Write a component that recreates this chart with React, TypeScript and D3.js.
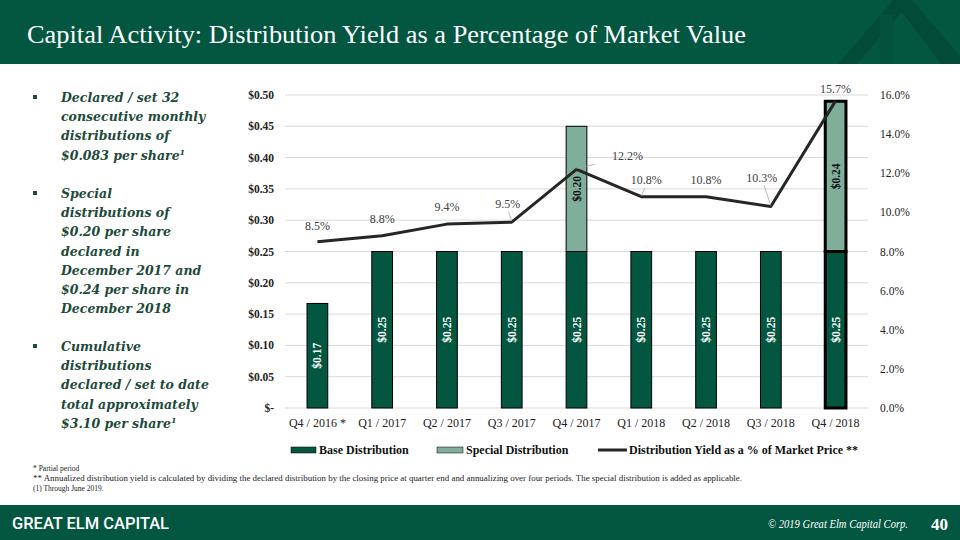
import React from "react";
import * as d3 from "d3";

const categories = ["Q4 / 2016 *", "Q1 / 2017", "Q2 / 2017", "Q3 / 2017", "Q4 / 2017", "Q1 / 2018", "Q2 / 2018", "Q3 / 2018", "Q4 / 2018"];
const baseValues = [0.167, 0.25, 0.25, 0.25, 0.25, 0.25, 0.25, 0.25, 0.25];
const baseLabels = ["$0.17", "$0.25", "$0.25", "$0.25", "$0.25", "$0.25", "$0.25", "$0.25", "$0.25"];
const specialValues = [0, 0, 0, 0, 0.2, 0, 0, 0, 0.24];
const specialLabels = ["", "", "", "", "$0.20", "", "", "", "$0.24"];
const yieldValues = [8.5, 8.8, 9.4, 9.5, 12.2, 10.8, 10.8, 10.3, 15.7];
const leftTicks = [0, 0.05, 0.1, 0.15, 0.2, 0.25, 0.3, 0.35, 0.4, 0.45, 0.5];
const leftTickLabels = ["$-", "$0.05", "$0.10", "$0.15", "$0.20", "$0.25", "$0.30", "$0.35", "$0.40", "$0.45", "$0.50"];
const rightTicks = [0, 2, 4, 6, 8, 10, 12, 14, 16];
// label offsets (dx, dy) relative to point for yield labels
const yieldLabelOffsets: [number, number, boolean][] = [
  [0, -12, false], [0, -13, false], [0, -13, false], [-4, -14, true], [51, -9, true],
  [5, -13, true], [0, -13, false], [-9, -25, true], [0, -8, false],
];
const bulletBlocks = [
  { lines: ["Declared / set 32", "consecutive monthly", "distributions of", "$0.083 per share"], sup: true, y: 102 },
  { lines: ["Special", "distributions of", "$0.20 per share", "declared in", "December 2017 and", "$0.24 per share in", "December 2018"], sup: false, y: 198 },
  { lines: ["Cumulative", "distributions", "declared / set to date", "total approximately", "$3.10 per share"], sup: true, y: 351 },
];
const footnotes = [
  "* Partial period",
  "** Annualized distribution yield is calculated by dividing the declared distribution by the closing price at quarter end and annualizing over four periods. The special distribution is added as applicable.",
  "(1) Through June 2019.",
];

const GREEN = "#03563F";
const LIGHT = "#7FAE9B";
const TEXTGREEN = "#1D4A3A";
const SERIF = "'Liberation Serif', 'DejaVu Serif', serif";
const WIDESERIF = "'DejaVu Serif', 'Liberation Serif', serif";

export default function App() {
  const W = 960, H = 540;
  const x = d3.scaleBand<string>().domain(categories).range([285, 868]).paddingInner(0.68).paddingOuter(0.34);
  const y = d3.scaleLinear().domain([0, 0.5]).range([408, 95]);
  const y2 = d3.scaleLinear().domain([0, 16]).range([408, 95]);
  const bw = x.bandwidth();
  const cx = (c: string) => (x(c) as number) + bw / 2;
  const line = d3.line<number>().x((_, i) => cx(categories[i])).y((d) => y2(d));

  return (
    <svg width={W} height={H} style={{ position: "absolute", left: 0, top: 0, display: "block" }}>
      <rect x={0} y={0} width={W} height={H} fill="#fff" />
      {/* header */}
      <rect x={0} y={0} width={W} height={64} fill={GREEN} />
      <polygon points="838,64 893,0 912,0 857,64" fill="#024C37" />
      <polygon points="893,0 912,0 960,56 960,64 941,64" fill="#024C37" />
      <polygon points="880,15 880,64 893,64 893,15" fill="#03523C" />
      <text x={27} y={43} fill="#fff" fontFamily={SERIF} fontSize={26} textLength={719} lengthAdjust="spacingAndGlyphs">
        Capital Activity: Distribution Yield as a Percentage of Market Value
      </text>

      {/* bullets */}
      {bulletBlocks.map((b, bi) => (
        <g key={bi}>
          <rect x={33} y={b.y - 7} width={4} height={4} fill={TEXTGREEN} />
          {b.lines.map((l, li) => (
            <text key={li} x={61} y={b.y + li * 19.2} fill={TEXTGREEN} fontFamily={WIDESERIF} fontStyle="italic" fontWeight="bold" fontSize={12.5}>
              {l}
              {b.sup && li === b.lines.length - 1 ? (
                <tspan fontSize={8} dy={-5}>1</tspan>
              ) : null}
            </text>
          ))}
        </g>
      ))}

      {/* gridlines */}
      {leftTicks.map((t) => (
        <line key={t} x1={285} x2={868} y1={y(t)} y2={y(t)} stroke="#D9D9D9" strokeWidth={1} />
      ))}
      {leftTicks.map((t, i) => (
        <text key={"l" + t} x={274} y={y(t) + 4} textAnchor="end" fontFamily={SERIF} fontWeight="bold" fontSize={11.5} fill="#222">
          {leftTickLabels[i]}
        </text>
      ))}
      {rightTicks.map((t) => (
        <text key={"r" + t} x={880} y={y2(t) + 4} fontFamily={SERIF} fontSize={11.5} fill="#222">
          {t.toFixed(1) + "%"}
        </text>
      ))}

      {/* bars */}
      {categories.map((c, i) => {
        const bx = x(c) as number;
        const thick = i === categories.length - 1;
        const sw = thick ? 3 : 1;
        return (
          <g key={c}>
            <rect x={bx} y={y(baseValues[i])} width={bw} height={y(0) - y(baseValues[i])} fill={GREEN} stroke="#000" strokeWidth={sw} />
            {specialValues[i] > 0 && (
              <rect x={bx} y={y(baseValues[i] + specialValues[i])} width={bw} height={y(baseValues[i]) - y(baseValues[i] + specialValues[i])} fill={LIGHT} stroke="#000" strokeWidth={sw} />
            )}
          </g>
        );
      })}
      {categories.map((c, i) => {
        const mx = cx(c);
        const my = (y(0) + y(baseValues[i])) / 2;
        return (
          <text key={"bl" + c} transform={`translate(${mx + 4},${my}) rotate(-90)`} textAnchor="middle" fontFamily={SERIF} fontWeight="bold" fontSize={11.5} fill="#fff">
            {baseLabels[i]}
          </text>
        );
      })}
      {categories.map((c, i) =>
        specialValues[i] > 0 ? (
          <text key={"sl" + c} transform={`translate(${cx(c) + 4},${(y(baseValues[i]) + y(baseValues[i] + specialValues[i])) / 2}) rotate(-90)`} textAnchor="middle" fontFamily={SERIF} fontWeight="bold" fontSize={11.5} fill="#111">
            {specialLabels[i]}
          </text>
        ) : null
      )}

      {/* yield line */}
      <path d={line(yieldValues) || ""} fill="none" stroke="#262626" strokeWidth={3} strokeLinejoin="round" />
      {yieldValues.map((v, i) => {
        const px = cx(categories[i]);
        const py = y2(v);
        const [dx, dy, leader] = yieldLabelOffsets[i];
        return (
          <g key={"yl" + i}>
            {leader && (
              <line x1={px} y1={py - 1} x2={px + dx * 0.75 - (dx > 20 ? 20 : 0)} y2={py + dy + 4} stroke="#A6A6A6" strokeWidth={0.8} />
            )}
            <text x={px + dx} y={py + dy} textAnchor="middle" fontFamily={SERIF} fontSize={12} fill="#404040">
              {v.toFixed(1) + "%"}
            </text>
          </g>
        );
      })}

      {/* category labels */}
      {categories.map((c) => (
        <text key={"c" + c} x={cx(c)} y={427} textAnchor="middle" fontFamily={SERIF} fontSize={12} fill="#222">
          {c}
        </text>
      ))}

      {/* legend */}
      <rect x={291} y={447} width={25} height={6} fill={GREEN} stroke="#000" strokeWidth={0.5} />
      <text x={319} y={454} fontFamily={SERIF} fontWeight="bold" fontSize={12} fill="#111">Base Distribution</text>
      <rect x={437} y={447} width={26} height={6} fill={LIGHT} stroke="#000" strokeWidth={0.5} />
      <text x={466} y={454} fontFamily={SERIF} fontWeight="bold" fontSize={12} fill="#111">Special Distribution</text>
      <line x1={598} x2={627} y1={450} y2={450} stroke="#262626" strokeWidth={3} />
      <text x={629} y={454} fontFamily={SERIF} fontWeight="bold" fontSize={12} fill="#111">Distribution Yield as a % of Market Price **</text>

      {/* footnotes */}
      {footnotes.map((f, i) => (
        <text key={"f" + i} x={33} y={471 + i * 9.8} fontFamily={SERIF} fontSize={7.5} fill="#222" textLength={i === 1 ? 709 : undefined} lengthAdjust="spacingAndGlyphs">
          {f}
        </text>
      ))}

      {/* footer */}
      <rect x={0} y={505} width={W} height={35} fill={GREEN} />
      <text x={12} y={529} fill="#fff" fontFamily="Roboto, 'Liberation Sans', sans-serif" fontWeight="500" fontSize={16} textLength={157} lengthAdjust="spacingAndGlyphs">
        GREAT ELM CAPITAL
      </text>
      <text x={768} y={528} fill="#fff" fontFamily={SERIF} fontStyle="italic" fontSize={12.5} textLength={140} lengthAdjust="spacingAndGlyphs">
        © 2019 Great Elm Capital Corp.
      </text>
      <text x={931} y={530} fill="#fff" fontFamily={SERIF} fontWeight="bold" fontSize={17}>40</text>
    </svg>
  );
}
